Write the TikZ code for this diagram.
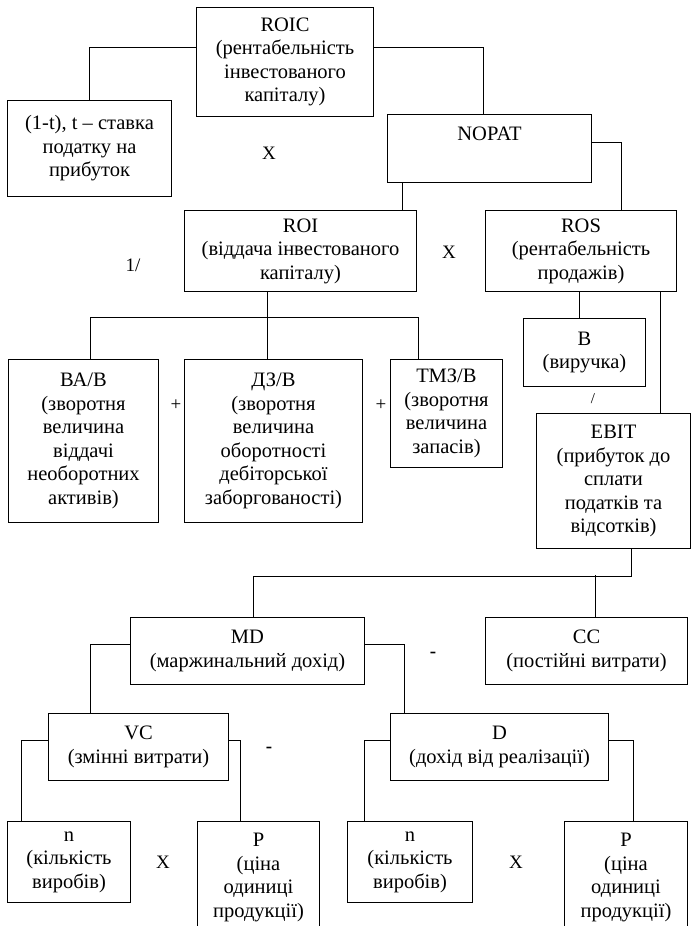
\documentclass[tikz,border=0pt]{standalone}
\usepackage{fontspec}
\setmainfont{Liberation Serif}
\begin{document}
\begin{tikzpicture}[x=1pt,y=-1pt,
  box/.style={draw, line width=1pt, inner sep=0pt, align=center, anchor=north west,
    font=\fontsize{20.5}{23.5}\selectfont},
  size/.style 2 args={minimum width=#1pt, minimum height=#2pt},
  link/.style={line width=1pt},
  op/.style={inner sep=0pt, font=\fontsize{19}{22}\selectfont}]
\useasboundingbox (0,0) rectangle (692,926);
\clip (0,0) rectangle (692,926);

% ---- boxes ----
\node[box, size={177}{109}] (roic) at (196,7) {ROIC\\(рентабельність\\інвестованого\\капіталу)};
\node[box, size={164}{96}]  (tax)  at (7,100) {(1-t), t – ставка\\податку на\\прибуток};
\node[box, size={204}{68}]  (nopat) at (387,114) {NOPAT\\\strut};
\node[box, size={232}{81}]  (roi)  at (184,210) {ROI\\(віддача інвестованого\\капіталу)};
\node[box, size={191}{81}]  (ros)  at (485,210) {ROS\\(рентабельність\\продажів)};
\node[box, size={150}{163}] (bab)  at (8,359) {ВА/В\\(зворотня\\величина\\віддачі\\необоротних\\активів)};
\node[box, size={178}{163}] (dzb)  at (184,359) {ДЗ/В\\(зворотня\\величина\\оборотності\\дебіторської\\заборгованості)};
\node[box, size={112}{108}] (tmzb) at (390,359) {ТМЗ/В\\(зворотня\\величина\\запасів)};
\node[box, size={122}{68}]  (rev)  at (523,318) {В\\(виручка)};
\node[box, size={154}{135}] (ebit) at (536,413) {EBIT\\(прибуток до\\сплати\\податків та\\відсотків)};
\node[box, size={234}{67}]  (md)   at (130,617) {MD\\(маржинальний дохід)};
\node[box, size={202}{67}]  (cc)   at (485,617) {CC\\(постійні витрати)};
\node[box, size={180}{67}]  (vc)   at (48,713) {VC\\(змінні витрати)};
\node[box, size={218}{67}]  (dinc) at (390,713) {D\\(дохід від реалізації)};
\node[box, size={123}{81}]  (na)   at (7,821) {n\\(кількість\\виробів)};
\node[box, size={122}{112}] (pa)   at (197,821) {P\\(ціна\\одиниці\\продукції)};
\node[box, size={125}{81}]  (nb)   at (347,821) {n\\(кількість\\виробів)};
\node[box, size={123}{112}] (pb)   at (564,821) {P\\(ціна\\одиниці\\продукції)};

% ---- operators ----
\node[op] (mul1) at (269,153) {X};
\node[op] (div1) at (133,265) {1/};
\node[op] (mul2) at (449,252) {X};
\node[op] (add1) at (176,405) {+};
\node[op] (add2) at (381,405) {+};
\node[op, font=\fontsize{15}{18}\selectfont] (div2) at (593,399) {/};
\node[op] (sub1) at (433,655) {\textbf{-}};
\node[op] (sub2) at (269,750) {\textbf{-}};
\node[op] (mul3) at (163,862) {X};
\node[op] (mul4) at (516,862) {X};

% ---- connectors ----
\draw[link] ([yshift=14.5pt]roic.west) -| (tax.north);
\draw[link] ([yshift=14.5pt]roic.east) -| ([xshift=-6pt]nopat.north);
\draw[link] ([yshift=6pt]nopat.east) -| ([xshift=40pt]ros.north);
\path ([xshift=15pt]nopat.south west) coordinate (nopatfoot);
\draw[link] (nopatfoot) -- (nopatfoot |- roi.north);

\path ([xshift=-33pt]roi.south) coordinate (roifoot);
\draw[link] (roifoot) -- (roifoot |- dzb.north);
\draw[link] ([xshift=7pt]bab.north) -- ++(0,-42) -| ([xshift=-28pt]tmzb.north);

\path ([xshift=-5pt]rev.north) coordinate (revtop);
\draw[link] (revtop) -- (revtop |- ros.south);
\path ([xshift=47pt]ebit.north) coordinate (ebittop);
\draw[link] (ebittop) -- (ebittop |- ros.south);

\path ([xshift=18pt]ebit.south) coordinate (ebitfoot);
\draw[link] (ebitfoot) -- ++(0,27) -| ([xshift=6pt]md.north);
\path ([xshift=9pt]cc.north) coordinate (cctop);
\draw[link] (cctop) -- ++(0,-42);

\draw[link] ([yshift=6.5pt]md.west) -| ([xshift=-48pt]vc.north);
\draw[link] ([yshift=6.5pt]md.east) -| ([xshift=-95pt]dinc.north);

\draw[link] ([yshift=6.5pt]vc.west) -| ([xshift=-47.5pt]na.north);
\draw[link] ([yshift=6.5pt]vc.east) -| ([xshift=-18pt]pa.north);
\draw[link] ([yshift=6.5pt]dinc.west) -| ([xshift=-45.5pt]nb.north);
\draw[link] ([yshift=6.5pt]dinc.east) -| ([xshift=7.5pt]pb.north);
\end{tikzpicture}
\end{document}
